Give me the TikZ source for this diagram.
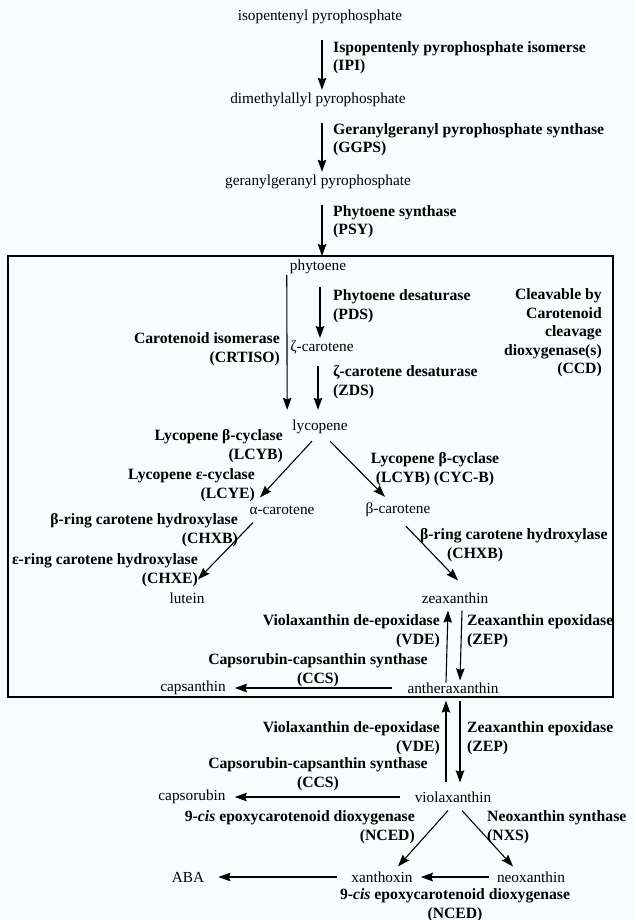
\documentclass[tikz,border=0pt]{standalone}
\usepackage{fontspec}
\setmainfont{Liberation Serif}
\usepackage{tikz}
\usetikzlibrary{arrows.meta}
\definecolor{paper}{RGB}{248,252,253}

\begin{document}
\begin{tikzpicture}[x=1pt,y=-1pt,
    every node/.style={inner sep=0pt,font=\fontsize{15.3}{18.5}\selectfont},
    enz/.style={font=\fontsize{15.7}{18.5}\selectfont\bfseries},
    rxn/.style={-{Stealth[length=12pt,width=8.5pt,inset=1.5pt]},line width=1.1pt}]
        \fill[paper] (0,0) rectangle (635,920);
        \useasboundingbox (0,0) rectangle (635,920);
        \draw[line width=1.4pt] (8,256) rectangle (613,697);
        \coordinate (boxtop) at (322,256);

        \node (ipp) at (320,17) {isopentenyl pyrophosphate};
        \node (dmapp) at (318,100) {dimethylallyl pyrophosphate};
        \node (ggpp) at (318,182) {geranylgeranyl pyrophosphate};
        \node[enz,anchor=west,align=left] (ipi) at (333,57.5) {Ispopentenly pyrophosphate isomerse\\(IPI)};
        \node[enz,anchor=west,align=left] (ggps) at (333,139.5) {Geranylgeranyl pyrophosphate synthase\\(GGPS)};
        \node[enz,anchor=west,align=left] (psy) at (333,221.5) {Phytoene synthase\\(PSY)};

        \node (phyt) at (318,267) {phytoene};
        \node (zcar) at (322,347) {ζ-carotene};
        \node (lyc) at (320,427) {lycopene};
        \node[enz,anchor=west,align=left] (pds) at (333,306) {Phytoene desaturase\\(PDS)};
        \node[enz,anchor=west,align=left] (zds) at (333,382) {ζ-carotene desaturase\\(ZDS)};
        \node[enz,anchor=east,align=right] (crtiso) at (280,349) {Carotenoid isomerase\\(CRTISO)};
        \node[enz,anchor=east,align=right] (ccd) at (602,333) {Cleavable by\\Carotenoid\\cleavage\\dioxygenase(s)\\(CCD)};

        \node[enz,anchor=east,align=right] (lcyb) at (283,446) {Lycopene β-cyclase\\(LCYB)};
        \node[enz,anchor=east,align=right] (lcye) at (255,485) {Lycopene ε-cyclase\\(LCYE)};
        \node[enz,align=center] (lcyb2) at (435,469) {Lycopene β-cyclase\\(LCYB) (CYC-B)};
        \node (acar) at (282,510) {α-carotene};
        \node (bcar) at (398,510) {β-carotene};
        \node[enz,anchor=east,align=right] (chxb) at (238,530) {β-ring carotene hydroxylase\\(CHXB)};
        \node[enz,anchor=east,align=right] (chxe) at (198,570) {ε-ring carotene hydroxylase\\(CHXE)};
        \node[enz,anchor=west,align=left] (chxb2) at (420,545) {β-ring carotene hydroxylase\\\hspace*{27pt}(CHXB)};
        \node (lut) at (187,598) {lutein};
        \node (zea) at (455,598) {zeaxanthin};

        \node[enz,anchor=east,align=right] (vde) at (440,631) {Violaxanthin de-epoxidase\\(VDE)};
        \node[enz,anchor=west,align=left] (zep) at (467,631) {Zeaxanthin epoxidase\\(ZEP)};
        \node[enz,align=center] (ccs) at (318,670) {Capsorubin-capsanthin synthase\\(CCS)};
        \node (anth) at (453,688) {antheraxanthin};
        \node (capsa) at (193,688) {capsanthin};

        \node[enz,anchor=east,align=right] (vde2) at (440,738) {Violaxanthin de-epoxidase\\(VDE)};
        \node[enz,anchor=west,align=left] (zep2) at (467,738) {Zeaxanthin epoxidase\\(ZEP)};
        \node[enz,align=center] (ccs2) at (318,774) {Capsorubin-capsanthin synthase\\(CCS)};
        \node (viol) at (453,797) {violaxanthin};
        \node (capso) at (192,797) {capsorubin};
        \node[enz,anchor=east,align=right] (nced) at (415,827) {9-\textit{cis} epoxycarotenoid dioxygenase\\(NCED)};
        \node[enz,anchor=west,align=left] (nxs) at (487,827) {Neoxanthin synthase\\(NXS)};
        \node (xan) at (382,877) {xanthoxin};
        \node (neo) at (531,877) {neoxanthin};
        \node (aba) at (188,877) {ABA};
        \node[enz,align=center] (nced2) at (455,905) {9-\textit{cis} epoxycarotenoid dioxygenase\\(NCED)};

        \draw[rxn] ([xshift=2pt,yshift=-16pt]ipp.south) -- ([xshift=4pt,yshift=3pt]dmapp.north);
        \draw[rxn] ([xshift=4pt,yshift=-16pt]dmapp.south) -- ([xshift=4pt,yshift=3pt]ggpp.north);
        \draw[rxn] ([xshift=4pt,yshift=-16pt]ggpp.south) -- (boxtop);
        \draw[rxn] ([xshift=2pt,yshift=-13pt]phyt.south) -- ([xshift=-2pt,yshift=2pt]zcar.north);
        \draw[rxn] ([xshift=-3pt,yshift=-1pt]phyt.south west) -- ([xshift=-5pt,yshift=10pt]lyc.north west);
        \draw[rxn] ([xshift=-4pt,yshift=-12pt]zcar.south) -- ([xshift=-2pt,yshift=10pt]lyc.north);
        \draw[rxn] ([xshift=-8pt,yshift=-7pt]lyc.south) -- ([xshift=-22pt,yshift=8pt]acar.north);
        \draw[rxn] ([xshift=10pt,yshift=-7pt]lyc.south) -- ([xshift=-13pt,yshift=6pt]bcar.north);
        \draw[rxn] ([xshift=-29pt,yshift=-8pt]acar.south) -- ([xshift=11pt,yshift=13pt]lut.north);
        \draw[rxn] ([xshift=8pt,yshift=-9pt]bcar.south) -- ([xshift=3pt,yshift=12pt]zea.north);
        \draw[rxn] ([xshift=-7pt]anth.north) -- ([xshift=-7pt,yshift=-7pt]zea.south);
        \draw[rxn] ([xshift=7pt,yshift=-7pt]zea.south) -- ([xshift=7pt,yshift=2pt]anth.north);
        \draw[rxn] ([xshift=-15pt]anth.west) -- ([xshift=9pt]capsa.east);
        \draw[rxn] ([xshift=-7pt,yshift=9pt]viol.north) -- ([xshift=-7pt,yshift=-7pt]anth.south);
        \draw[rxn] ([xshift=7pt,yshift=-7pt]anth.south) -- ([xshift=7pt,yshift=9pt]viol.north);
        \draw[rxn] ([xshift=-15pt]viol.west) -- ([xshift=9pt]capso.east);
        \draw[rxn] ([xshift=-5pt,yshift=-8pt]viol.south) -- ([xshift=16pt,yshift=5pt]xan.north);
        \draw[rxn] ([xshift=9pt,yshift=-8pt]viol.south) -- ([xshift=-18pt,yshift=5pt]neo.north);
        \draw[rxn] ([xshift=-14pt]xan.west) -- ([xshift=14pt]aba.east);
        \draw[rxn,line width=2pt] ([xshift=-8pt]neo.west) -- ([xshift=8pt]xan.east);
      \end{tikzpicture}
\end{document}
